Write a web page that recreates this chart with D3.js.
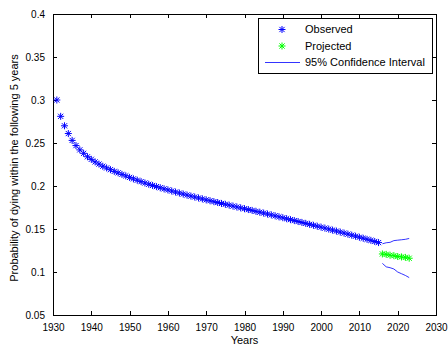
<!DOCTYPE html>
<html><head><meta charset="utf-8">
<script src="https://cdn.jsdelivr.net/npm/d3@7"></script>
<style>
html,body{margin:0;padding:0;background:#fff;}
svg{display:block;}
text{font-family:"Liberation Sans",Arial,sans-serif;fill:#000;}
</style></head>
<body>
<svg id="chart" width="448" height="347"></svg>
<script>
// ---- data ----
const observedYears = d3.range(1931, 2016);
const observedValues = [
 0.300,0.281,0.270,0.261,0.253,0.247,0.242,0.238,0.234,0.231,
 0.228,0.2255,0.223,0.221,0.219,0.217,0.2153,0.2135,0.2118,0.2100,
 0.2083,0.2067,0.2051,0.2035,0.2020,0.2006,0.1993,0.1980,0.1967,0.1955,
 0.1942,0.1930,0.1918,0.1906,0.1894,0.1883,0.1872,0.1861,0.1850,0.1839,
 0.1829,0.1818,0.1808,0.1797,0.1787,0.1777,0.1766,0.1756,0.1746,0.1736,
 0.1726,0.1716,0.1705,0.1695,0.1685,0.1674,0.1664,0.1653,0.1642,0.1631,
 0.1620,0.1609,0.1598,0.1587,0.1576,0.1565,0.1554,0.1543,0.1532,0.1521,
 0.1510,0.1499,0.1487,0.1476,0.1464,0.1452,0.1440,0.1428,0.1416,0.1404,
 0.1392,0.1380,0.1368,0.1355,0.1342
];
const projectedYears = [2016,2017,2018,2019,2020,2021,2022,2023];
const projectedValues = [0.121,0.1205,0.1195,0.119,0.118,0.1175,0.117,0.116];
const ciUpper = [0.1328,0.1340,0.1345,0.1365,0.1370,0.1375,0.1380,0.1390];
const ciLower = [0.1100,0.1060,0.1050,0.1035,0.1000,0.0980,0.0960,0.0935];
const xTicks = [1930,1940,1950,1960,1970,1980,1990,2000,2010,2020,2030];
const yTicks = [0.05,0.1,0.15,0.2,0.25,0.3,0.35,0.4];
const yTickLabels = ["0.05","0.1","0.15","0.2","0.25","0.3","0.35","0.4"];
const legendLabels = ["Observed","Projected","95% Confidence Interval"];

// ---- layout ----
const L = 53, R = 436, T = 14, B = 315;
const svg = d3.select("#chart");
const x = d3.scaleLinear().domain([1930, 2030]).range([L, R]);
const y = d3.scaleLinear().domain([0.05, 0.4]).range([B, T]);

const blue = "#0000ff", green = "#00ff00";
const star = "M-3.5,0L3.5,0M0,-3.5L0,3.5M-2.6,-2.6L2.6,2.6M-2.6,2.6L2.6,-2.6";

// axes (box with inward ticks)
const tickLen = 4;
const gx = svg.append("g").attr("transform", `translate(0,${B})`)
  .call(d3.axisBottom(x).tickValues(xTicks).tickFormat(d3.format("d")).tickSizeInner(-tickLen).tickSizeOuter(0).tickPadding(9));
const gxt = svg.append("g").attr("transform", `translate(0,${T})`)
  .call(d3.axisTop(x).tickValues(xTicks).tickFormat("").tickSizeInner(-tickLen).tickSizeOuter(0));
const gy = svg.append("g").attr("transform", `translate(${L},0)`)
  .call(d3.axisLeft(y).tickValues(yTicks).tickFormat((d,i)=>yTickLabels[i]).tickSizeInner(-tickLen).tickSizeOuter(0).tickPadding(8));
const gyr = svg.append("g").attr("transform", `translate(${R},0)`)
  .call(d3.axisRight(y).tickValues(yTicks).tickFormat("").tickSizeInner(-tickLen).tickSizeOuter(0));
[gx,gxt,gy,gyr].forEach(g=>{
  g.selectAll(".domain").remove();
  g.selectAll("line").attr("stroke","#000").attr("shape-rendering","crispEdges");
  g.selectAll("text").style("font-size","10px").style("font-family","'Liberation Sans',Arial,sans-serif").attr("fill","#000");
});
gy.selectAll("text").attr("dy","0.35em");
gx.selectAll("text").attr("dy","0.71em");

// box
svg.append("rect").attr("x", L+0.5).attr("y", T+0.5).attr("width", R-L).attr("height", B-T)
  .attr("fill","none").attr("stroke","#000").attr("stroke-width",1).attr("shape-rendering","crispEdges");

// CI lines
const line = d3.line().x((d,i)=>x(projectedYears[i])).y(d=>y(d));
svg.append("path").datum(ciUpper).attr("d", line).attr("fill","none").attr("stroke",blue).attr("stroke-width",0.8);
svg.append("path").datum(ciLower).attr("d", line).attr("fill","none").attr("stroke",blue).attr("stroke-width",0.8);

// observed markers
svg.append("g").selectAll("path").data(observedValues).join("path")
  .attr("d", star).attr("transform",(d,i)=>`translate(${x(observedYears[i])},${y(d)})`)
  .attr("fill","none").attr("stroke",blue).attr("stroke-width",1);
// projected markers
svg.append("g").selectAll("path").data(projectedValues).join("path")
  .attr("d", star).attr("transform",(d,i)=>`translate(${x(projectedYears[i])},${y(d)})`)
  .attr("fill","none").attr("stroke",green).attr("stroke-width",1);

// axis labels
svg.append("text").attr("x", (L+R)/2).attr("y", 344).attr("text-anchor","middle")
  .style("font-size","11px").text("Years");
svg.append("text").attr("transform","translate(18,168) rotate(-90)").attr("text-anchor","middle")
  .style("font-size","11px").text("Probability of dying within the following 5 years");

// legend
const lg = svg.append("g");
lg.append("rect").attr("x",258.5).attr("y",18.5).attr("width",174).attr("height",55)
  .attr("fill","#fff").attr("stroke","#000").attr("stroke-width",1).attr("shape-rendering","crispEdges");
const rowsY = [29.5, 46, 62.5];
lg.append("path").attr("d", star).attr("transform",`translate(282,${rowsY[0]})`).attr("fill","none").attr("stroke",blue);
lg.append("path").attr("d", star).attr("transform",`translate(282,${rowsY[1]})`).attr("fill","none").attr("stroke",green);
lg.append("line").attr("x1",265).attr("x2",300).attr("y1",rowsY[2]).attr("y2",rowsY[2]).attr("stroke",blue).attr("stroke-width",0.8);
legendLabels.forEach((t,i)=>{
  lg.append("text").attr("x",305).attr("y",rowsY[i]).attr("dy","0.36em").style("font-size","11px").text(t);
});
</script>
</body></html>
